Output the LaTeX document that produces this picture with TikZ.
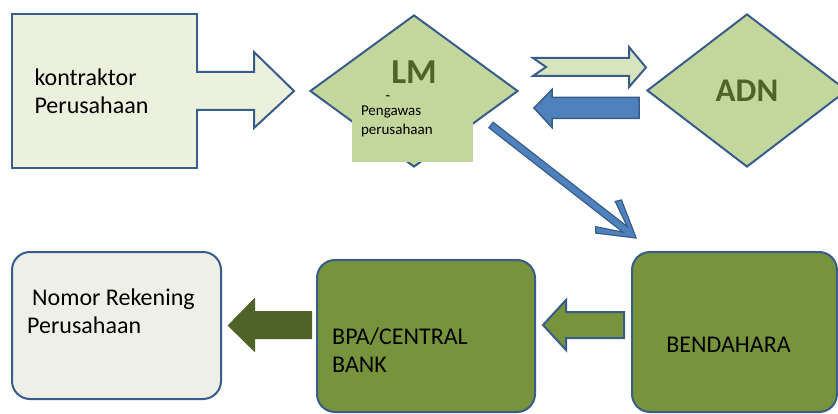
\documentclass[tikz,border=0pt]{standalone}
\usepackage{fontspec}
\setmainfont{Carlito}
\usetikzlibrary{shapes.geometric,calc}

\definecolor{lineblue}{HTML}{385D8A}
\definecolor{diafill}{HTML}{C3D69B}
\definecolor{palefill}{HTML}{ECF1DD}
\definecolor{greyfill}{HTML}{EEF0E8}
\definecolor{shapeolive}{HTML}{77933C}
\definecolor{lmgreen}{HTML}{4F6228}
\definecolor{paleolive}{HTML}{D7E4BD}
\definecolor{arrowblue}{HTML}{4F81BD}

\tikzset{
  box/.style={draw=lineblue, line width=2pt, inner sep=0pt},
  roundbox/.style={box, rounded corners=18pt},
  dia/.style={diamond, draw=lineblue, fill=diafill, line width=2pt, inner sep=0pt},
  bigtxt/.style={font=\fontsize{24}{28}\selectfont, align=left, inner sep=0pt},
  smalltxt/.style={font=\fontsize{15}{19}\selectfont, align=left, inner sep=0pt},
  boldtxt/.style={font=\fontsize{35}{38}\selectfont\bfseries, text=lmgreen, inner sep=0pt},
  blockarrow/.style={draw=lineblue, line width=2pt, line join=miter},
}

\begin{document}
\begin{tikzpicture}[x=1pt, y=-1pt]
  \useasboundingbox[fill=white] (0,0) rectangle (838,414);

  % top row
  \node[box, fill=palefill, minimum width=185pt, minimum height=154pt, text width=140pt, bigtxt] (kon) at (104.5,91) {kontraktor\\Perusahaan};
  \node[dia, minimum width=208pt, minimum height=152pt] (lm) at (414,91) {};
  \node[fill=diafill, inner sep=0pt, minimum width=121pt, minimum height=62pt] (lmpanel) at (412.5,131) {};
  \node[boldtxt] (lmlbl) at ($(lm.center)+(0,-19)$) {LM};
  \node[smalltxt] (lmdash) at (388,98) {-};
  \node[smalltxt, anchor=west] (pengawas) at ($(lmpanel.west)+(9,-10)$) {Pengawas\\perusahaan};
  \node[dia, minimum width=200pt, minimum height=153pt, font=\fontsize{33}{36}\selectfont\bfseries, text=lmgreen] (adn) at (747,90.5) {ADN};

  % kontraktor -> LM
  \begin{scope}[shift={(kon.east)}]
    \filldraw[blockarrow, fill=palefill] (-2,-19) -- (56,-19) -- (56,-39) -- ($(lm.west)+(-15,0)$) -- (56,37) -- (56,19) -- (-2,19);
  \end{scope}

  % LM <-> ADN
  \begin{scope}[shift={(lm.east)}]
    \filldraw[blockarrow, fill=paleolive] (14,-33) -- (110,-33) -- (110,-44) -- ($(adn.west)+(0,-23)$) -- (110,-4) -- (110,-15) -- (14,-15) -- (27,-24) -- cycle;
  \end{scope}
  \begin{scope}[shift={(adn.west)}]
    \filldraw[blockarrow, line width=1.5pt, fill=arrowblue] (-7,7) -- (-94,7) -- (-94,-1) -- ($(lm.east)+(15,17)$) -- (-94,37) -- (-94,28) -- (-7,28) -- cycle;
  \end{scope}

  % LM -> BENDAHARA
  \begin{scope}[shift={($(lm.east)+(-28,34)$)}, rotate=-37.9]
    \filldraw[blockarrow, line width=1.2pt, fill=arrowblue] (0,-3.5) -- (170,-3.5) -- (145,-16) -- (149,-21) -- (184,0) -- (149,21) -- (145,16) -- (170,3.5) -- (0,3.5) -- cycle;
  \end{scope}

  % bottom row
  \node[roundbox, fill=greyfill, minimum width=209pt, minimum height=147pt] (nomor) at (116.5,325.5) {};
  \node[bigtxt, anchor=west] (nomorlbl) at ($(nomor.west)+(16,-14)$) {\hspace{5pt}Nomor Rekening\\Perusahaan};
  \node[roundbox, fill=shapeolive, minimum width=218pt, minimum height=152pt] (bpa) at (426,336) {};
  \node[bigtxt, anchor=west] (bpalbl) at ($(bpa.west)+(16,14)$) {BPA/CENTRAL\\BANK};
  \node[roundbox, fill=shapeolive, minimum width=205pt, minimum height=160pt] (bend) at (734.5,332) {};
  \node[bigtxt] (bendlbl) at ($(bend.center)+(-6,13)$) {BENDAHARA};

  % BENDAHARA -> BPA
  \begin{scope}[shift={(bend.west)}]
    \filldraw[blockarrow, fill=shapeolive] (-7,-20) -- (-65,-20) -- (-65,-32) -- ($(bpa.east)+(7,-11)$) -- (-65,18) -- (-65,6) -- (-7,6) -- cycle;
  \end{scope}

  % BPA -> Nomor Rekening
  \begin{scope}[shift={(bpa.west)}]
    \filldraw[blockarrow, draw=lmgreen, fill=lmgreen] (-5,-24) -- (-62,-24) -- (-62,-36) -- ($(nomor.east)+(7,0)$) -- (-62,14) -- (-62,2) -- (-5,2) -- cycle;
  \end{scope}
\end{tikzpicture}
\end{document}
